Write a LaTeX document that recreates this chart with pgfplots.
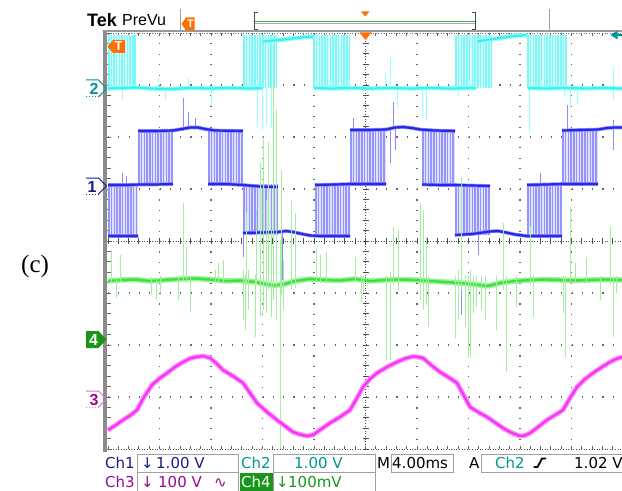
\documentclass[border=0pt]{standalone}
\usepackage{pgfplots}
\pgfplotsset{compat=1.18}
\usepackage{fontspec}
\setmainfont{DejaVu Sans}
\newfontfamily\arialfont{Liberation Sans}
\newfontfamily\timesfont{Liberation Serif}
\newcommand{\fs}[1]{\fontsize{#1bp}{#1bp}\selectfont}

% trace colours (line / light band / label)
\definecolor{chA}{RGB}{40,40,230}
\definecolor{chAl}{RGB}{140,140,255}
\definecolor{chAs}{RGB}{148,148,255}
\definecolor{chAf}{RGB}{226,226,255}
\definecolor{chAt}{RGB}{25,25,140}
\definecolor{chB}{RGB}{60,240,240}
\definecolor{chBl}{RGB}{150,255,255}
\definecolor{chBs}{RGB}{125,248,248}
\definecolor{chBf}{RGB}{212,255,255}
\definecolor{chBt}{RGB}{0,150,150}
\definecolor{chC}{RGB}{245,55,245}
\definecolor{chCl}{RGB}{255,150,255}
\definecolor{chCt}{RGB}{150,10,150}
\definecolor{chCo}{RGB}{205,120,205}
\definecolor{chD}{RGB}{60,225,60}
\definecolor{chDl}{RGB}{160,240,160}
\definecolor{chDt}{RGB}{25,150,25}
\definecolor{tekorange}{RGB}{255,110,0}
\definecolor{frame}{RGB}{160,160,160}

\begin{document}
\begin{tikzpicture}
\begin{axis}[name=osc, scale only axis, width=622bp, height=491bp,
  xmin=0, xmax=622, ymin=0, ymax=491, y dir=reverse,
  axis line style={draw=none}, ticks=none, clip=false,
  unbounded coords=jump,
  every error bar/.style={line width=1.9bp},
  stripes/.style 2 args={draw=none, mark=none,
    error bars/y dir=both, error bars/y fixed=#1, error bars/error mark=none,
    error bars/error bar style={draw=#2, line width=1.9bp}},
  spikes/.style={draw=none, mark=none,
    every error bar/.append style={line width=1bp},
    error bars/y dir=both, error bars/y explicit, error bars/error mark=none,
    error bars/error bar style={draw=#1}},
]
\fill[white] (0,0) rectangle (622,491);

% ---- graticule
\pgfplotsinvokeforeach{159.5,211,262.5,314,417,468.5,520,571.5}{
  \draw[black!60, line width=1.1bp, dash pattern=on 1.1bp off 9.3bp] (#1,33) -- (#1,449);}
\pgfplotsinvokeforeach{85,137,189,293,345,397}{
  \draw[black!60, line width=1.1bp, dash pattern=on 1.1bp off 9.2bp] (108,#1) -- (622,#1);}
\draw[black!70, line width=0.9bp, dash pattern=on 1bp off 1.6bp] (365.5,33) -- (365.5,449);
\draw[black!70, line width=0.9bp, dash pattern=on 1bp off 1.6bp] (108,241) -- (622,241);
\draw[black!70, line width=0.9bp, dash pattern=on 1bp off 1.6bp] (108,449) -- (622,449);
\draw[black!55, line width=0.9bp, dash pattern=on 1bp off 1.6bp] (108,33.5) -- (622,33.5);
\pgfplotsinvokeforeach{0,...,40}{
  \draw[black!70, line width=0.9bp] (362.5,{33+10.4*#1}) -- (368.5,{33+10.4*#1});
  \draw[black!60, line width=0.9bp] (107,{33+10.4*#1}) -- (110.5,{33+10.4*#1});}
\pgfplotsinvokeforeach{0,...,50}{
  \draw[black!70, line width=0.9bp] ({108+10.3*#1},238) -- ({108+10.3*#1},244);
  \draw[black!60, line width=0.9bp] ({108+10.3*#1},445.5) -- ({108+10.3*#1},449);
  \draw[black!60, line width=0.9bp] ({108+10.3*#1},33) -- ({108+10.3*#1},36.5);}
\draw[black!45, line width=3.2bp] (105,30) -- (105,452);
\draw[black!40, line width=2bp] (104,31) -- (622,31);

% ---- burst envelopes (PWM regions)
\addplot[fill=chAf, draw=none] coordinates {
 (138,130)(173,130)(173,184)(138,184) (138,nan)
 (208,130)(243,130)(243,184)(208,184) (208,nan)
 (350,130)(386,130)(386,184)(350,184) (350,nan)
 (422,130)(455,130)(455,184)(422,184) (422,nan)
 (562,130)(598,130)(598,184)(562,184) (562,nan)
 (108,184)(138,184)(138,235)(108,235) (108,nan)
 (243,184)(278,184)(278,235)(243,235) (243,nan)
 (315,184)(350,184)(350,235)(315,235) (315,nan)
 (455,184)(490,184)(490,235)(455,235) (455,nan)
 (527,184)(562,184)(562,235)(527,235)
};
\addplot[fill=chBf, draw=none] coordinates {
 (108,35)(136,35)(136,88)(108,88) (108,nan)
 (243,35)(277,35)(277,88)(243,88) (243,nan)
 (313,35)(350,35)(350,88)(313,88) (313,nan)
 (455,35)(492,35)(492,88)(455,88) (455,nan)
 (527,35)(567,35)(567,88)(527,88)
};

% ---- Ch1: PWM stripes (high-mid and mid-low)
\addplot[stripes={27}{chAs}] coordinates {
 (139,157)(141.5,157)(144.5,157)(147,157)(150,157)(152.5,157)(155.5,157)(158,157)(161,157)(163.5,157)(166.5,157)(169,157)(172,157)
 (209,157)(211.5,157)(214.5,157)(217,157)(220,157)(222.5,157)(225.5,157)(228,157)(231,157)(233.5,157)(236.5,157)(239,157)(242,157)
 (351,157)(353.5,157)(356.5,157)(359,157)(362,157)(364.5,157)(367.5,157)(370,157)(373,157)(375.5,157)(378.5,157)(381,157)(384,157)
 (423,157)(425.5,157)(428.5,157)(431,157)(434,157)(436.5,157)(439.5,157)(442,157)(445,157)(447.5,157)(450.5,157)(453,157)
 (563,157)(565.5,157)(568.5,157)(571,157)(574,157)(576.5,157)(579.5,157)(582,157)(585,157)(587.5,157)(590.5,157)(593,157)(596,157)
};
\addplot[stripes={25.5}{chAs}] coordinates {
 (109,209.5)(111.5,209.5)(114.5,209.5)(117,209.5)(120,209.5)(122.5,209.5)(125.5,209.5)(128,209.5)(131,209.5)(133.5,209.5)(136.5,209.5)
 (244,209.5)(246.5,209.5)(249.5,209.5)(252,209.5)(255,209.5)(257.5,209.5)(260.5,209.5)(263,209.5)(266,209.5)(268.5,209.5)(271.5,209.5)(274,209.5)(277,209.5)
 (316,209.5)(318.5,209.5)(321.5,209.5)(324,209.5)(327,209.5)(329.5,209.5)(332.5,209.5)(335,209.5)(338,209.5)(340.5,209.5)(343.5,209.5)(346,209.5)(349,209.5)
 (456,209.5)(458.5,209.5)(461.5,209.5)(464,209.5)(467,209.5)(469.5,209.5)(472.5,209.5)(475,209.5)(478,209.5)(480.5,209.5)(483.5,209.5)(486,209.5)(489,209.5)
 (528,209.5)(530.5,209.5)(533.5,209.5)(536,209.5)(539,209.5)(541.5,209.5)(544.5,209.5)(547,209.5)(550,209.5)(552.5,209.5)(555.5,209.5)(558,209.5)(561,209.5)
};
\addplot[spikes=chAl] coordinates {
 (183,131) += (0,0) -= (0,33)  (188,130) += (0,0) -= (0,18)  (195,128) += (0,0) -= (0,10)
 (122,185) += (0,0) -= (0,12)  (126,185) += (0,0) -= (0,9)   (353,130) += (0,0) -= (0,12)
 (393,128) += (0,0) -= (0,26)  (390,129) += (0,34) -= (0,0)  (395,128) += (0,22) -= (0,0)
 (540,185) += (0,0) -= (0,12)  (243,233) += (0,24) -= (0,0)  (282,232) += (0,48) -= (0,0)
 (461.7,234) += (0,81) -= (0,0) (478,234) += (0,21) -= (0,0) (567,130) += (0,0) -= (0,25)
 (613,128) += (0,22) -= (0,8)
};
% Ch1 levels: mid, high, low
\addplot[draw=chA, line width=2.2bp, preaction={draw=chAl, line width=3.6bp}] coordinates {
 (108,185)(125,185)(140,184.5)(155,184.5)(173,184) (173,nan)
 (208,184)(225,184)(243,185)(260,186.5)(278,187) (278,nan)
 (315,185)(335,184.5)(350,184)(368,184)(386,184) (386,nan)
 (422,184.5)(440,185)(455,185)(472,185.5)(490,186) (490,nan)
 (527,185)(545,184.5)(562,184)(580,184)(598,184)
};
\addplot[draw=chA, line width=2.2bp, preaction={draw=chAl, line width=3.6bp}] coordinates {
 (138,131)(155,131)(173,130.5)(182,129)(190,127.5)(198,127.5)(205,129)(215,130.5)(243,131) (243,nan)
 (350,130)(368,130)(386,129.5)(395,127.5)(403,127)(412,128)(420,129.5)(435,130.5)(455,131) (455,nan)
 (562,130.5)(580,130)(598,129.5)(607,128)(615,127.5)(622,127.5)
};
\addplot[draw=chA, line width=2.2bp, preaction={draw=chAl, line width=3.6bp}] coordinates {
 (108,236)(138,236) (138,nan)
 (243,233)(260,232.5)(278,232)(286,231)(293,232)(300,233.5)(310,235.5)(320,236)(350,236) (350,nan)
 (455,235)(472,234)(490,231.5)(498,231)(506,232.5)(515,234.5)(527,236)(545,236)(562,236)
};

% ---- Ch2
\addplot[stripes={26.5}{chBs}] coordinates {
 (109,61.5)(111.5,61.5)(114,61.5)(116.5,61.5)(119.5,61.5)(122,61.5)(124.5,61.5)(127.5,61.5)(130,61.5)(133,61.5)(135,61.5)
 (244,61.5)(246.5,61.5)(249.5,61.5)(252,61.5)(255,61.5)(257.5,61.5)(260,61.5)(263,61.5)(265.5,61.5)(268.5,61.5)(271,61.5)(274,61.5)(276.5,61.5)
 (314,61.5)(316.5,61.5)(319.5,61.5)(322,61.5)(325,61.5)(327.5,61.5)(330.5,61.5)(333,61.5)(336,61.5)(338.5,61.5)(341.5,61.5)(344,61.5)(347,61.5)(349.5,61.5)
 (456,61.5)(458.5,61.5)(461.5,61.5)(464,61.5)(467,61.5)(469.5,61.5)(472.5,61.5)(475,61.5)(478,61.5)(480.5,61.5)(483.5,61.5)(486,61.5)(489,61.5)(491.5,61.5)
 (528,61.5)(530.5,61.5)(533.5,61.5)(536,61.5)(539,61.5)(541.5,61.5)(544.5,61.5)(547,61.5)(550,61.5)(552.5,61.5)(555.5,61.5)(558,61.5)(561,61.5)(563.5,61.5)(566,61.5)
};
\addplot[spikes=chBl] coordinates {
 (122,88) += (0,12) -= (0,0)  (158,88) += (0,0) -= (0,10)  (165,88) += (0,12) -= (0,0)
 (188,88) += (0,0) -= (0,10)  (211,88) += (0,18) -= (0,0)  (257,88) += (0,39) -= (0,0)
 (262,88) += (0,42) -= (0,0)  (266,88) += (0,37) -= (0,0)  (271,88) += (0,40) -= (0,0)
 (385,88) += (0,0) -= (0,15)  (390,88) += (0,0) -= (0,31)  (397,88) += (0,19) -= (0,0)
 (422,88) += (0,30) -= (0,0)  (426,88) += (0,32) -= (0,0)  (458,88) += (0,9) -= (0,0)
 (529,88) += (0,45) -= (0,0)  (564,88) += (0,9) -= (0,0)   (570,88) += (0,19) -= (0,0)
 (577,88) += (0,17) -= (0,0)  (613,88) += (0,12) -= (0,21) (618,88) += (0,4) -= (0,0)
};
\addplot[draw=chB, line width=2.2bp, preaction={draw=chBl, line width=4.5bp}] coordinates {
 (108,88.5)(120,88)(135,87.5)(150,88.5)(170,89)(190,88)(210,88.5)(230,88)(250,88.5)(262,88) (262,nan)
 (263,41.5)(275,40.5)(288,39)(300,37.5)(313,36.5) (313,nan)
 (314,88)(330,88.5)(350,88)(370,88.5)(390,88)(410,88.5)(430,88)(450,88.5)(476,88) (476,nan)
 (477,41.5)(490,39.5)(503,37.5)(515,36)(527,35) (527,nan)
 (528,88)(545,88.5)(565,88)(585,88.5)(605,88)(622,88.5)
};

% ---- Ch4
\addplot[draw=chD, line width=2.4bp, preaction={draw=chDl, line width=5.5bp}] coordinates {
 (108,281)(120,280)(135,279.5)(150,281)(165,280)(180,279)(195,278.5)(210,279.5)(225,281)(240,280.5)
 (255,282)(265,284)(275,285.5)(285,284)(295,281)(310,279)(325,280)(340,280.5)(355,279)(370,281)
 (385,280)(400,279.5)(415,280)(430,281)(445,282)(460,283)(475,284.5)(488,286)(500,283)(515,281)
 (530,280)(545,279.5)(560,280)(575,280.5)(590,280)(605,279.5)(622,280)
};
\addplot[spikes=chDl] coordinates {
 (111.7,280) += (0,3) -= (0,30)   (116.7,280) += (0,18) -= (0,2)  (120,280) += (0,2) -= (0,25)
 (151.7,280) += (0,15) -= (0,3)   (156.7,280) += (0,20) -= (0,2)  (160,280) += (0,13) -= (0,4)
 (178.3,280) += (0,20) -= (0,3)   (183.3,280) += (0,2) -= (0,77)  (186.7,280) += (0,3) -= (0,33)
 (190,280) += (0,32) -= (0,4)     (215,280) += (0,3) -= (0,10)    (218.3,280) += (0,3) -= (0,17)
 (223.3,280) += (0,2) -= (0,20)   (243.3,280) += (0,40) -= (0,10) (245,280) += (0,50) -= (0,5)
 (246.7,280) += (0,5) -= (0,68)   (248.3,280) += (0,30) -= (0,10) (255,280) += (0,57) -= (0,5)
 (256.7,280) += (0,5) -= (0,70)   (260,280) += (0,37) -= (0,117)  (263.3,280) += (0,30) -= (0,143)
 (266.7,280) += (0,33) -= (0,80)  (268.3,280) += (0,10) -= (0,138) (271.7,280) += (0,37) -= (0,50)
 (273.3,280) += (0,20) -= (0,203) (276.7,280) += (0,40) -= (0,170) (280,280) += (0,169) -= (0,40)
 (281.7,280) += (0,15) -= (0,110) (283.3,280) += (0,30) -= (0,20)  (291.7,280) += (0,10) -= (0,80)
 (295,280) += (0,8) -= (0,67)     (316.7,280) += (0,2) -= (0,32)  (320,280) += (0,3) -= (0,25)
 (326.7,280) += (0,2) -= (0,28)   (355,280) += (0,2) -= (0,23)    (361.7,280) += (0,22) -= (0,4)
 (363.3,280) += (0,13) -= (0,4)   (386.7,280) += (0,80) -= (0,4)  (390,280) += (0,80) -= (0,8)
 (393,280) += (0,5) -= (0,53)     (398.3,280) += (0,10) -= (0,50) (420,280) += (0,20) -= (0,77)
 (423,280) += (0,30) -= (0,70)    (426.7,280) += (0,25) -= (0,43) (428.3,280) += (0,47) -= (0,4)
 (455,280) += (0,58) -= (0,4)     (458.3,280) += (0,40) -= (0,10) (461.7,280) += (0,10) -= (0,103)
 (465,280) += (0,47) -= (0,4)     (468.3,280) += (0,78) -= (0,4)  (470,280) += (0,78) -= (0,10)
 (473.3,280) += (0,33) -= (0,4)   (476.7,280) += (0,27) -= (0,4)  (481.7,280) += (0,30) -= (0,4)
 (485,280) += (0,40) -= (0,4)     (496.7,280) += (0,50) -= (0,4)  (503.3,280) += (0,10) -= (0,57)
 (506,280) += (0,92) -= (0,4)     (516.7,280) += (0,27) -= (0,4)  (530,280) += (0,5) -= (0,54)
 (533.3,280) += (0,37) -= (0,4)   (563.3,280) += (0,33) -= (0,4)  (565,280) += (0,77) -= (0,4)
 (570,280) += (0,4) -= (0,73)     (575,280) += (0,3) -= (0,17)    (586.7,280) += (0,3) -= (0,23)
 (600,280) += (0,20) -= (0,4)     (610,280) += (0,4) -= (0,53)    (613.3,280) += (0,57) -= (0,4)
 (616.7,280) += (0,13) -= (0,4)
};

% ---- Ch3
\addplot[draw=chC, line width=2.4bp, preaction={draw=chCl, line width=5bp}] coordinates {
 (108,430)(116,425)(123,420)(130,415.5)(137,410)(144,397)(152,385)(160,378)(167,373)(175,367)
 (183,362)(190,358.5)(196,357)(203,356)(210,358)(216,363)(223,370)(233,376)(243,383)(250,393)
 (257,403)(267,412)(277,420)(285,426)(293,432)(300,434.5)(307,436)(313,435)(320,430)(330,423)
 (340,417)(350,410)(357,398)(363,387)(370,379)(377,373)(387,367)(397,362)(405,358.5)(413,356.5)
 (418,357)(423,358)(431,365)(440,372)(448,377)(457,383)(463,394)(470,407)(478,412)(487,417)
 (495,422.5)(503,428)(511,432.5)(520,436)(525,435.5)(530,433)(538,427)(547,420)(555,415)(563,410)
 (570,398)(577,387)(585,379)(593,373)(602,367)(610,362)(616,359)(622,357)
};

% ---- channel ground markers
\draw[chBt, line width=1bp] (86,80) -- (98.5,80) -- (106.5,88.5) -- (98.5,97);
\draw[chBt, line width=1bp, dotted] (98.5,97) -- (86,97);
\node[anchor=base, text=chBt, font=\arialfont\bfseries\fs{16}, inner sep=0] at (94,94.5) {2};
\draw[chAt, line width=1bp] (86,178) -- (98.5,178) -- (106.5,186) -- (98.5,194);
\draw[chAt, line width=1bp, dotted] (98.5,194) -- (86,194);
\node[anchor=base, text=chAt, font=\arialfont\bfseries\fs{16}, inner sep=0] at (92,192) {1};
\fill[chDt] (86,331) -- (98.5,331) -- (106.5,339.5) -- (98.5,348) -- (86,348) -- cycle;
\node[anchor=base, text=white, font=\arialfont\bfseries\fs{16}, inner sep=0] at (93.5,345.5) {4};
\draw[chCo, line width=1bp] (86,391) -- (98.5,391) -- (106.5,399) -- (98.5,407);
\draw[chCo, line width=1bp, dotted] (98.5,407) -- (86,407);
\node[anchor=base, text=chCt, font=\arialfont\bfseries\fs{16}, inner sep=0] at (94,405) {3};

% trigger markers
\fill[tekorange] (107.5,46.5) -- (113,40) -- (125,40) -- (125,53) -- (113,53) -- cycle;
\node[text=white, font=\arialfont\bfseries\fs{13}, inner sep=0] at (118.5,46.5) {T};
\fill[tekorange] (359.5,32.5) -- (371.5,32.5) -- (365.5,40) -- cycle;
\fill[chBt] (610.5,35) -- (617.5,30.5) -- (617.5,39.5) -- cycle;
\draw[chBt, line width=1.6bp] (617,35) -- (622,35);

% ---- top bar
\node[anchor=base west, inner sep=0, font=\arialfont\bfseries\fs{18}] at (87,27) {Tek};
\node[anchor=base west, inner sep=0, font=\arialfont\fs{16}] at (122,26) {PreVu};
\draw[frame, line width=1bp] (180,9) -- (180,31);
\draw[frame, line width=1bp] (549.5,9) -- (549.5,31);
\fill[tekorange] (181.5,24) -- (186,17.5) -- (194.5,17.5) -- (194.5,30.5) -- (186,30.5) -- cycle;
\node[text=white, font=\arialfont\bfseries\fs{11}, inner sep=0] at (190.5,24) {T};
\draw[black!70, line width=1bp] (257.5,12.5) -- (254.5,12.5) -- (254.5,29.5) -- (257.5,29.5);
\draw[black!70, line width=1bp] (472,12.5) -- (475,12.5) -- (475,29.5) -- (472,29.5);
\draw[black!35, line width=0.8bp] (255,23.3) -- (474.5,23.3);
\draw[chDt!80!white, line width=1.6bp] (255,21.5) -- (474.5,21.5);
\fill[tekorange] (361,11.5) -- (369.5,11.5) -- (365.2,16.5) -- cycle;

% ---- side label
\node[anchor=base west, inner sep=0, font=\timesfont\fs{25}] at (21,272) {(c)};

% ---- status readout
\draw[frame, line width=1bp] (137.5,454) rectangle (238.5,472.5);
\draw[frame, line width=1bp] (273.5,454) rectangle (375,472.5);
\draw[frame, line width=1bp] (391,454) rectangle (453,472.5);
\draw[frame, line width=1bp] (481,454) -- (625,454);
\draw[frame, line width=1bp] (481,454) -- (481,472.5) -- (625,472.5);
\draw[frame, line width=1bp] (137.5,472.5) -- (137.5,493);
\draw[frame, line width=1bp] (238.5,472.5) -- (238.5,493);
\draw[frame, line width=1bp] (273.5,472.5) -- (273.5,493);
\draw[frame, line width=1bp] (375,472.5) -- (375,493);
\fill[chDt] (239.5,473) rectangle (272.5,491);
\begin{scope}[every node/.style={anchor=base west, inner sep=0, font=\fs{15}}]
\node[text=chAt] at (105,468.5) {Ch1};
\node[text=chAt] at (141,468.5) {↓};
\node[text=chAt] at (156,468.5) {1.00 V};
\node[text=chBt] at (241,468.5) {Ch2};
\node[text=chBt] at (294,468.5) {1.00 V};
\node at (377,468.5) {M};
\node at (392,468.5) {4.00ms};
\node at (469,468.5) {A};
\node[text=chBt] at (495,468.5) {Ch2};
\node at (574,468.5) {1.02 V};
\node[text=chCt] at (105,487) {Ch3};
\node[text=chCt] at (141,487) {↓};
\node[text=chCt] at (158,487) {100 V};
\node[text=chCt] at (214,487) {∿};
\node[text=white] at (241,487) {Ch4};
\node[text=chDt] at (276,487) {↓};
\node[text=chDt] at (288,487) {100mV};
\end{scope}
\draw[black, line width=1.8bp] (533.5,467) -- (537.5,467) -- (542,458.5) -- (546,458.5);
\end{axis}
\pgfresetboundingbox
\path[use as bounding box] (osc.south west) rectangle (osc.north east);
\end{tikzpicture}
\end{document}
